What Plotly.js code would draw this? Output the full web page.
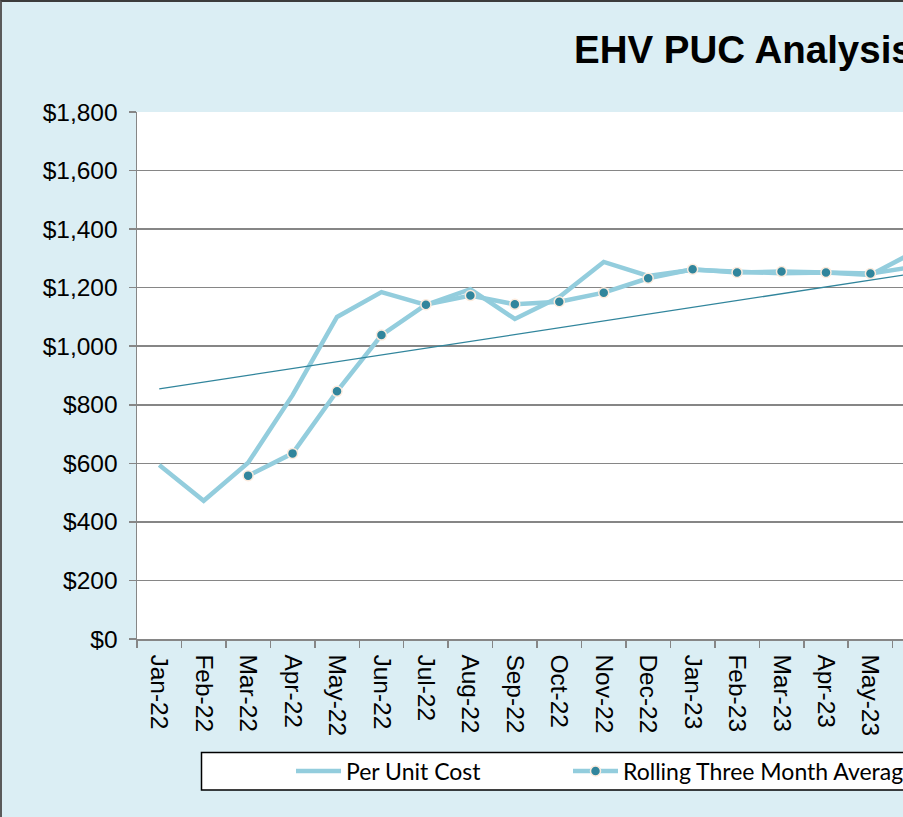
<!DOCTYPE html>
<html>
<head>
<meta charset="utf-8">
<script src="https://cdn.plot.ly/plotly-3.0.1.min.js"></script>
<style>
  html, body { margin: 0; padding: 0; overflow: hidden; background: #DBEEF4; }
  #chart { width: 903px; height: 817px; }
  #frame { position: absolute; left: 0; top: 0; width: 903px; height: 817px; box-sizing: border-box;
           border-left: 2px solid #5a5a5a; border-top: 2px solid #3c3c3c; pointer-events: none; }
</style>
</head>
<body>
<div id="chart"></div>
<div id="frame"></div>
<script>
// ---- data ----
const months = ["Jan-22","Feb-22","Mar-22","Apr-22","May-22","Jun-22","Jul-22","Aug-22","Sep-22",
                "Oct-22","Nov-22","Dec-22","Jan-23","Feb-23","Mar-23","Apr-23","May-23","Jun-23"];
const perUnitCost = [594, 472, 602, 833, 1100, 1185, 1141, 1195, 1093,
                     1168, 1288, 1240, 1261, 1255, 1249, 1252, 1243, 1323];
const rollingAvg = [null, null, 558, 634, 846, 1038, 1142, 1173, 1143,
                    1152, 1183, 1232, 1263, 1252, 1255, 1252, 1248, 1272];
const trendMonths = ["Jan-22", "Jun-23"];
const trendValues = [854, 1249];
const titleText = "EHV PUC Analysis";
const seriesNames = ["Per Unit Cost", "Rolling Three Month Average", "Linear (Per Unit Cost)"];

// ---- layout helpers (pixels -> paper) ----
const W = 903, H = 817, L = 137, T = 112, B = 178;
const PW = W - L, PH = H - T - B;
const py = p => (H - B - p) / PH;
const px = p => (p - L) / PW;

const lineColor = "#93CDDD";
const darkTeal = "#31859C";
const axisFont = "Liberation Sans, Arial, sans-serif";

const traces = [
  { x: months, y: perUnitCost, name: seriesNames[0], type: "scatter", mode: "lines",
    line: { color: lineColor, width: 4.5 }, legend: "legend" },
  { x: months, y: rollingAvg, name: seriesNames[1], type: "scatter", mode: "lines+markers",
    line: { color: lineColor, width: 4.5 },
    marker: { color: darkTeal, size: 10, line: { color: "#FCEBDD", width: 1.5 } },
    legend: "legend2" },
  { x: trendMonths, y: trendValues, name: seriesNames[2], type: "scatter", mode: "lines",
    line: { color: darkTeal, width: 1.3 }, showlegend: false }
];

const legendCommon = {
  orientation: "h", xref: "paper", yref: "paper",
  xanchor: "left", y: py(771), yanchor: "middle",
  bgcolor: "rgba(0,0,0,0)", borderwidth: 0,
  itemwidth: 45,
  font: { family: "Lato, sans-serif", size: 23, color: "#000000" }
};

const layout = {
  width: W, height: H,
  margin: { l: L, r: 0, t: T, b: B, autoexpand: false },
  paper_bgcolor: "#DBEEF4",
  plot_bgcolor: "#FFFFFF",
  font: { family: axisFont, color: "#000000", size: 24.5 },
  title: { text: "<b>" + titleText + "</b>", xref: "container", yref: "container",
           x: 574 / W, xanchor: "left", y: 1 - 50 / H, yanchor: "middle",
           font: { family: axisFont, size: 38.5, color: "#000000" } },
  xaxis: {
    type: "category", categoryorder: "array", categoryarray: months,
    range: [-0.5, -0.5 + PW / 44.45],
    showgrid: false, showline: true, linecolor: "#868686", linewidth: 1.5,
    ticks: "outside", tickson: "boundaries", ticklen: 7, tickcolor: "#868686", tickwidth: 1.5,
    tickangle: 90, ticklabelstandoff: 9,
    tickfont: { size: 24.5, family: axisFont },
    fixedrange: true
  },
  yaxis: {
    range: [0, 1800], dtick: 200, tick0: 0,
    tickprefix: "$", tickformat: ",d",
    showgrid: true, gridcolor: "#868686", gridwidth: 1.5,
    showline: true, linecolor: "#868686", linewidth: 1.5,
    ticks: "outside", ticklen: 7, tickcolor: "#868686", tickwidth: 1.5,
    ticklabelstandoff: 6,
    zeroline: false,
    tickfont: { size: 24.5, family: axisFont },
    fixedrange: true
  },
  showlegend: true,
  legend: Object.assign({}, legendCommon, { x: px(291) }),
  legend2: Object.assign({}, legendCommon, { x: px(568) }),
  shapes: [
    { type: "rect", xref: "paper", yref: "paper", layer: "below",
      x0: px(201.5), x1: px(1000), y0: py(752.5), y1: py(790),
      fillcolor: "#FFFFFF", line: { color: "#000000", width: 1.5 } }
  ]
};

Plotly.newPlot("chart", traces, layout, { displayModeBar: false, staticPlot: true });
</script>
</body>
</html>
